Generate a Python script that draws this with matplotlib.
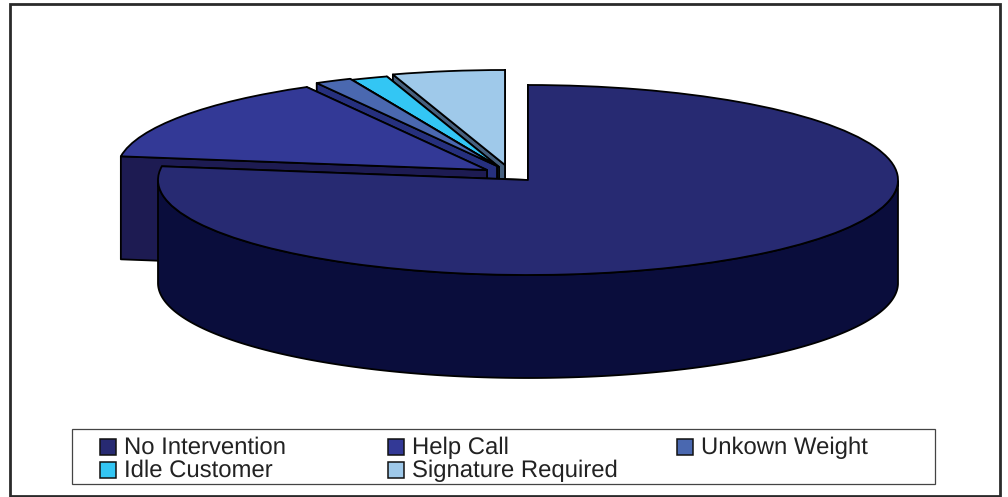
import numpy as np
import matplotlib
matplotlib.use("Agg")
import matplotlib.pyplot as plt
from matplotlib.patches import Polygon, Rectangle

plt.rcParams["font.family"] = ["Liberation Sans", "DejaVu Sans"]
plt.rcParams["text.hinting"] = "none"

labels = ["No Intervention", "Help Call", "Unkown Weight", "Idle Customer", "Signature Required"]
shares = [77.3, 14.6, 1.6, 1.6, 4.9]
top_colors = ["#272a72", "#333996", "#4a68b0", "#33c6f4", "#9fc9ea"]
wall_colors = ["#0a0d3c", "#1d1b52", "#26307e", "#1a6e80", "#46607e"]

# --- layout, all in reference pixels ---
W, H = 1008, 497
CX, CY = 528, 180      # pie centre
RX, RY = 370, 95       # ellipse radii
DEPTH = 103
TIPS = [(528, 180), (487, 170), (497, 166), (499, 167), (505, 165)]  # exploded slice tips
LW = 1.3

fig = plt.figure(figsize=(W / 100, H / 100), dpi=100, facecolor="white")

# pie axes: unit circle stretched into the ellipse
ax = fig.add_axes([0, 0, 1, 1])
wedges, _ = ax.pie(shares, colors=top_colors, startangle=90, counterclock=False,
                   wedgeprops={"edgecolor": "black", "linewidth": LW, "joinstyle": "round"})
ax.set_aspect("auto")
ax.set_xlim(-CX / RX, (W - CX) / RX)
ax.set_ylim((CY - H) / RY, CY / RY)
ax.axis("off")

depth = DEPTH / RY


def wall(points, color, z):
    ax.add_patch(Polygon(points, closed=True, facecolor=color, edgecolor="black",
                         linewidth=LW, joinstyle="round", zorder=z))


# back slices first, the big one last so it hides what is behind it
for i in [4, 3, 2, 1, 0]:
    w = wedges[i]
    cx = (TIPS[i][0] - CX) / RX
    cy = (CY - TIPS[i][1]) / RY
    w.set_center((cx, cy))
    z = 10 + (4 - i) * 2
    w.set_zorder(z + 1)

    for t in [w.theta1, w.theta2]:
        rim = (cx + np.cos(np.radians(t)), cy + np.sin(np.radians(t)))
        wall([(cx, cy), rim, (rim[0], rim[1] - depth), (cx, cy - depth)], wall_colors[i], z)

    th = np.radians(np.linspace(w.theta1, w.theta2, 400))
    th = th[np.sin(th) <= 0]
    if len(th) > 1:
        x = cx + np.cos(th)
        y = cy + np.sin(th)
        outer = np.r_[np.c_[x, y], np.c_[x, y - depth][::-1]]
        wall(outer, wall_colors[i], z + 0.5)

# frame and legend in pixel coordinates
ov = fig.add_axes([0, 0, 1, 1])
ov.set_xlim(0, W)
ov.set_ylim(H, 0)
ov.axis("off")
ov.patch.set_alpha(0)

ov.add_patch(Rectangle((9.5, 4), 990.5, 491.5, fill=False, edgecolor="#2a2a2a", linewidth=2))
ov.add_patch(Rectangle((72, 429), 863, 55, facecolor="white", edgecolor="#444444", linewidth=0.9))

legend_x = [100, 388, 677, 100, 388]
legend_y = [439, 439, 439, 462, 462]
for name, color, x, y in zip(labels, top_colors, legend_x, legend_y):
    ov.add_patch(Rectangle((x, y), 16, 16, facecolor=color, edgecolor="#111111", linewidth=1.1))
    ov.text(x + 24, y + 9, name, fontsize=17.2, color="#222222", va="center", ha="left")

fig.savefig("out.png", dpi=100)
plt.close()
